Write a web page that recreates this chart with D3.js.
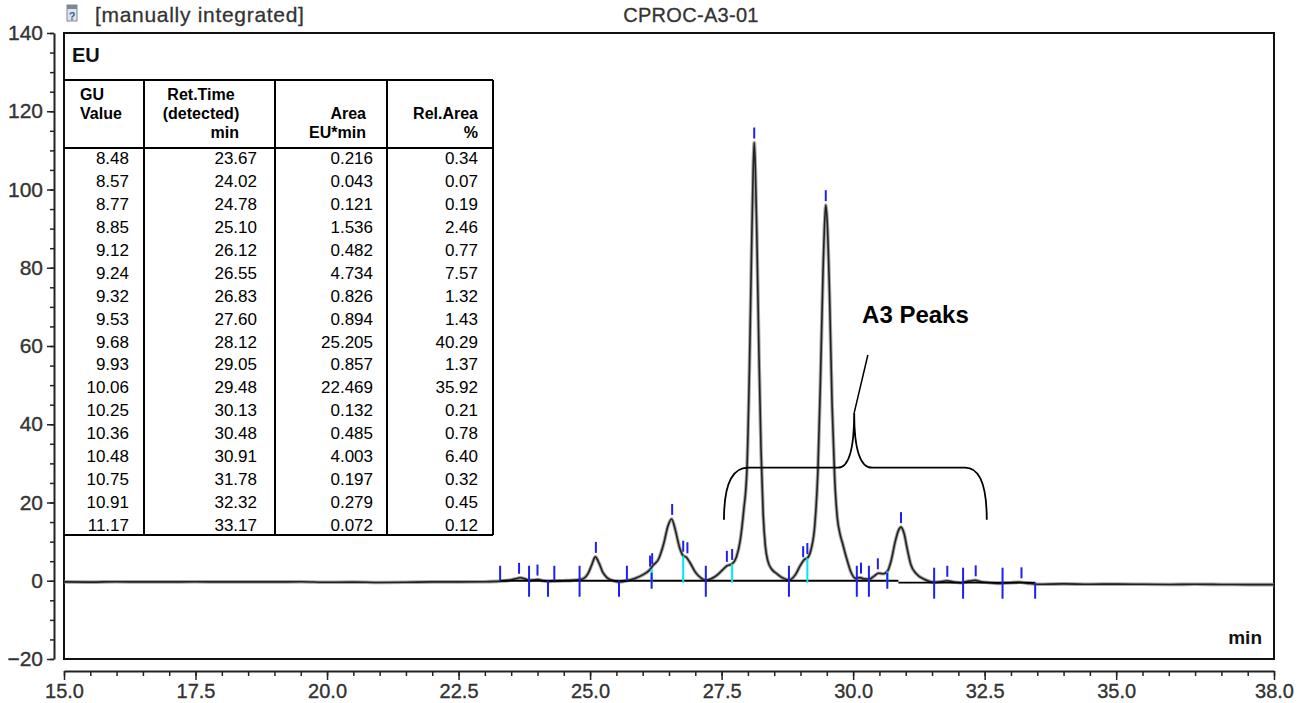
<!DOCTYPE html>
<html><head><meta charset="utf-8">
<script src="https://cdn.jsdelivr.net/npm/d3@7"></script>
<style>
body{margin:0;background:#fff;}
svg{display:block;font-family:Arial,"Liberation Sans",sans-serif;}
</style>
</head><body>
<svg id="c" width="1310" height="703"></svg>
<script>
// ---------------- DATA ----------------
const xTickLabels = [15.0, 17.5, 20.0, 22.5, 25.0, 27.5, 30.0, 32.5, 35.0, 38.0];
const yTickLabels = [-20, 0, 20, 40, 60, 80, 100, 120, 140];

const tableHeaderGU = ["GU", "Value"];
const tableHeaderRT = ["Ret.Time", "(detected)", "min"];
const tableHeaderArea = ["Area", "EU*min"];
const tableHeaderRel = ["Rel.Area", "%"];
const tableGU = ["8.48","8.57","8.77","8.85","9.12","9.24","9.32","9.53","9.68","9.93","10.06","10.25","10.36","10.48","10.75","10.91","11.17"];
const tableRT = ["23.67","24.02","24.78","25.10","26.12","26.55","26.83","27.60","28.12","29.05","29.48","30.13","30.48","30.91","31.78","32.32","33.17"];
const tableArea = ["0.216","0.043","0.121","1.536","0.482","4.734","0.826","0.894","25.205","0.857","22.469","0.132","0.485","4.003","0.197","0.279","0.072"];
const tableRelArea = ["0.34","0.07","0.19","2.46","0.77","7.57","1.32","1.43","40.29","1.37","35.92","0.21","0.78","6.40","0.32","0.45","0.12"];

// chromatogram trace (min, EU)
const traceTime = [15.0,15.5,16.0,16.5,17.0,17.5,18.0,18.5,19.0,19.5,20.0,20.5,21.0,21.5,22.0,22.5,23.0,23.3,23.45,23.58,23.67,23.76,23.84,23.93,24.02,24.1,24.2,24.32,24.5,24.65,24.78,24.88,24.96,25.03,25.10,25.17,25.24,25.32,25.42,25.55,25.7,25.85,26.0,26.12,26.2,26.3,26.4,26.48,26.55,26.62,26.7,26.77,26.83,26.9,27.0,27.1,27.2,27.3,27.42,27.52,27.6,27.7,27.78,27.85,27.92,27.98,28.03,28.07,28.10,28.12,28.14,28.17,28.21,28.25,28.29,28.33,28.38,28.45,28.55,28.65,28.78,28.9,29.0,29.08,29.13,29.2,29.27,29.33,29.38,29.43,29.46,29.48,29.51,29.55,29.6,29.65,29.7,29.75,29.8,29.87,29.95,30.05,30.13,30.2,30.3,30.4,30.48,30.58,30.65,30.72,30.8,30.86,30.91,30.97,31.03,31.1,31.2,31.35,31.55,31.68,31.78,31.9,32.05,32.2,32.32,32.45,32.6,32.8,33.0,33.17,33.3,33.5,34.0,34.5,35.0,35.5,36.0,36.5,37.0,37.5,38.0];
const traceSignal = [-0.3,-0.35,-0.25,-0.3,-0.3,-0.25,-0.3,-0.3,-0.3,-0.25,-0.4,-0.35,-0.45,-0.4,-0.3,-0.3,-0.25,-0.1,0.1,0.5,0.75,0.5,0.1,0.2,0.3,0.0,-0.2,-0.1,0.0,0.1,0.25,0.6,1.8,4.0,6.1,4.5,2.2,0.8,0.1,-0.3,0.0,0.6,1.5,2.6,4.0,5.5,9.5,14.0,15.8,13.0,8.5,6.4,6.0,4.6,2.2,0.8,0.1,0.5,1.5,2.8,3.8,4.3,6,10,18,28,55,85,105,112,106,88,58,33,17,9,5,3,1.8,0.8,0.2,1.5,4,5.5,5.8,8,14,28,52,80,92,96,91,74,45,26,16,12,9.5,6,2.5,0.6,0.8,0.5,0.4,1.2,1.9,1.8,2.4,5,10,12.8,13.7,12,8,4,1.8,0.4,-0.4,-0.2,0.0,-0.3,-0.5,-0.1,0.1,-0.3,-0.5,-0.7,-0.5,-0.4,-0.6,-0.9,-0.8,-0.9,-0.85,-0.9,-0.95,-0.9,-0.95,-1.0,-1.0];

// integration baseline segments
const baseStart = [23.29, 30.86];
const baseEnd = [30.86, 33.46];
const baseLevel = [0, -0.5];

// peak markers (time, curve level)
const markerTime = [23.65, 24.0, 25.11, 26.14, 26.18, 26.56, 26.77, 26.85, 27.6, 27.7, 28.12, 29.05, 29.13, 29.48, 30.15, 30.47, 30.91, 31.79, 32.33, 33.2];
const markerLevel = [0.75, 0.3, 6.1, 2.6, 3.2, 15.8, 6.4, 6.0, 3.8, 4.3, 112, 5.0, 5.8, 96, 0.8, 1.9, 13.7, 0.0, 0.1, -0.4];

// peak boundary ticks
const boundaryTime = [23.29, 23.84, 24.2, 24.32, 24.8, 25.55, 25.7, 26.17, 27.2, 28.78, 30.07, 30.3, 30.65, 31.54, 32.09, 32.84, 33.46];
const boundaryType = ["up","both","down","up","both","down","up","short","both","both","both","both","short","both","both","both","down"];
const boundaryBase = [0,0,0,0,0,0,0,0,0,0,0,0,0,-0.5,-0.5,-0.5,-0.5];

// perpendicular drop lines
const dropTime = [26.17, 26.77, 27.7, 29.13, 30.3, 30.65];
const dropLevel = [3.0, 6.4, 4.3, 5.8, 0.4, 2.4];

// ---------------- CHART ----------------
const svg = d3.select("#c");
const x = d3.scaleLinear().domain([15, 38]).range([64, 1274]);
const y = d3.scaleLinear().domain([-20, 140]).range([659, 33]);
const FONT = "Arial, 'Liberation Sans', sans-serif";

// header
const icon = svg.append("g");
icon.append("rect").attr("x", 67).attr("y", 5).attr("width", 10).attr("height", 16)
  .attr("fill", "#dfe4ea").attr("stroke", "#7d8896").attr("stroke-width", 1);
icon.append("rect").attr("x", 67).attr("y", 5).attr("width", 10).attr("height", 4).attr("fill", "#7d8896");
icon.append("text").attr("x", 72).attr("y", 20).attr("text-anchor", "middle")
  .attr("font-size", 11).attr("font-weight", "bold").attr("fill", "#3a5da8").text("?");
svg.append("text").attr("x", 95).attr("y", 22).attr("font-size", 21).attr("letter-spacing", 0.7)
  .attr("fill", "#333").attr("stroke", "#333").attr("stroke-width", 0.3).text("[manually integrated]");
svg.append("text").attr("x", 691).attr("y", 22).attr("text-anchor", "middle").attr("font-size", 20).attr("letter-spacing", 0.3)
  .attr("fill", "#333").attr("stroke", "#333").attr("stroke-width", 0.3).text("CPROC-A3-01");

// y axis (outside frame)
const yMinor = d3.axisLeft(y).tickValues(d3.range(-20, 141, 5)).tickSize(4).tickFormat("").tickSizeOuter(0);
const gyMinor = svg.append("g").attr("transform", "translate(54,0)").call(yMinor);
gyMinor.select(".domain").remove();
gyMinor.selectAll("line").attr("stroke", "#222").attr("stroke-width", 1.5);
const yAxis = d3.axisLeft(y).tickValues(yTickLabels).tickSize(7).tickSizeOuter(0).tickPadding(4).tickFormat(d3.format("d"));
const gy = svg.append("g").attr("transform", "translate(54,0)").call(yAxis);
gy.select(".domain").attr("stroke", "#222").attr("stroke-width", 2);
gy.selectAll("line").attr("stroke", "#222").attr("stroke-width", 1.5);
gy.selectAll("text").attr("font-size", 21).attr("fill", "#333").attr("stroke", "#333").attr("stroke-width", 0.35).attr("font-family", FONT);

// x axis (below frame)
const xMinor = d3.axisBottom(x).tickValues(d3.range(15, 38.01, 0.5)).tickSize(5).tickFormat("").tickSizeOuter(0);
const gxMinor = svg.append("g").attr("transform", "translate(0,671)").call(xMinor);
gxMinor.select(".domain").remove();
gxMinor.selectAll("line").attr("stroke", "#222").attr("stroke-width", 1.5);
const xAxis = d3.axisBottom(x).tickValues(xTickLabels).tickSize(9).tickSizeOuter(0).tickPadding(4).tickFormat(d3.format(".1f"));
const gx = svg.append("g").attr("transform", "translate(0,671)").call(xAxis);
gx.select(".domain").attr("stroke", "#222").attr("stroke-width", 2);
gx.selectAll("line").attr("stroke", "#222").attr("stroke-width", 1.5);
gx.selectAll("text").attr("font-size", 20).attr("fill", "#333").attr("stroke", "#333").attr("stroke-width", 0.35).attr("font-family", FONT);

// plot frame
svg.append("rect").attr("x", x(15)).attr("y", y(140)).attr("width", x(38) - x(15)).attr("height", y(-20) - y(140))
  .attr("fill", "none").attr("stroke", "#111").attr("stroke-width", 2);

svg.append("text").attr("x", 72).attr("y", 62).attr("font-size", 20).attr("font-weight", "bold").attr("fill", "#111").text("EU");
svg.append("text").attr("x", 1262).attr("y", 644).attr("text-anchor", "end").attr("font-size", 19).attr("font-weight", "bold").attr("fill", "#111").text("min");

// trace
const pts = traceTime.map((t, i) => [t, traceSignal[i]]);
const line = d3.line().x(d => x(d[0])).y(d => y(d[1])).curve(d3.curveMonotoneX);
svg.append("path").datum(pts).attr("d", line).attr("fill", "none").attr("stroke", "#8a8a8a").attr("stroke-width", 3.6).attr("stroke-opacity", 0.75);
svg.append("path").datum(pts).attr("d", line).attr("fill", "none").attr("stroke", "#222").attr("stroke-width", 1.6);

// baseline
baseStart.forEach((s, i) => {
  svg.append("line").attr("x1", x(s)).attr("x2", x(baseEnd[i])).attr("y1", y(baseLevel[i])).attr("y2", y(baseLevel[i]))
    .attr("stroke", "#000").attr("stroke-width", 1.8);
});

// drop lines
dropTime.forEach((t, i) => {
  svg.append("line").attr("x1", x(t)).attr("x2", x(t)).attr("y1", y(0) + 2).attr("y2", y(dropLevel[i]))
    .attr("stroke", "#00e8f0").attr("stroke-width", 2);
});

// boundary ticks
boundaryTime.forEach((t, i) => {
  const b = y(boundaryBase[i]);
  const type = boundaryType[i];
  const up = type === "up" ? 15 : type === "both" ? 15 : type === "short" ? 8 : 0;
  const dn = type === "down" ? 16 : type === "both" ? 16 : type === "short" ? 8 : 0;
  svg.append("line").attr("x1", x(t)).attr("x2", x(t)).attr("y1", b - up).attr("y2", b + dn)
    .attr("stroke", "#1f1ff0").attr("stroke-width", 2);
});

// peak markers
markerTime.forEach((t, i) => {
  const p = y(markerLevel[i]);
  svg.append("line").attr("x1", x(t)).attr("x2", x(t)).attr("y1", p - 4).attr("y2", p - 15)
    .attr("stroke", "#1f1ff0").attr("stroke-width", 2);
});

// table
const tbl = svg.append("g");
const tL = 64, tR = 493, tT = 80, tB = 535, tH = 148;
const colX = [144, 275, 387];
function L(x1, y1, x2, y2) { tbl.append("line").attr("x1", x1).attr("y1", y1).attr("x2", x2).attr("y2", y2).attr("stroke", "#000").attr("stroke-width", 2); }
L(tL, tT, tR, tT); L(tL, tH, tR, tH); L(tL, tB, tR, tB); L(tR, tT, tR, tB);
colX.forEach(c => L(c, tT, c, tB));

const hb = [100, 119, 138];
function H(txt, xx, yy, anchor) {
  tbl.append("text").attr("x", xx).attr("y", yy).attr("text-anchor", anchor).attr("font-size", 16).attr("font-weight", "bold").attr("fill", "#000").text(txt);
}
H(tableHeaderGU[0], 80, hb[0], "start"); H(tableHeaderGU[1], 80, hb[1], "start");
H(tableHeaderRT[0], 201, hb[0], "middle"); H(tableHeaderRT[1], 201, hb[1], "middle"); H(tableHeaderRT[2], 239, hb[2], "end");
H(tableHeaderArea[0], 366, hb[1], "end"); H(tableHeaderArea[1], 366, hb[2], "end");
H(tableHeaderRel[0], 478, hb[1], "end"); H(tableHeaderRel[1], 478, hb[2], "end");

const rowY0 = 164, rowStep = 22.94;
const cols = [tableGU, tableRT, tableArea, tableRelArea];
const colRight = [129, 257, 373, 478];
cols.forEach((arr, c) => {
  arr.forEach((v, r) => {
    tbl.append("text").attr("x", colRight[c]).attr("y", rowY0 + r * rowStep).attr("text-anchor", "end")
      .attr("font-size", 17).attr("fill", "#000").text(v);
  });
});

// annotation: A3 Peaks brace
const braceTime = [27.545, 27.545, 28.0, 29.71, 30.02, 30.02, 30.02, 30.36, 32.13, 32.54, 32.54];
const braceEU = [15.6, 28.9, 28.9, 28.9, 28.9, 42.9, 28.9, 28.9, 28.9, 28.9, 15.6];
const P = braceTime.map((t, i) => [x(t), y(braceEU[i])]);
const pathD = `M${P[0]} Q${P[1]} ${P[2]} L${P[3]} Q${P[4]} ${P[5]} Q${P[6]} ${P[7]} L${P[8]} Q${P[9]} ${P[10]}`;
svg.append("path").attr("d", pathD).attr("fill", "none").attr("stroke", "#000").attr("stroke-width", 1.8);
svg.append("line").attr("x1", x(30.28)).attr("y1", y(57.7)).attr("x2", x(30.02)).attr("y2", y(42.9)).attr("stroke", "#000").attr("stroke-width", 1.5);
svg.append("text").attr("x", x(30.17)).attr("y", y(66)).attr("font-size", 24).attr("font-weight", "bold").attr("fill", "#000").text("A3 Peaks");
</script>
</body></html>
